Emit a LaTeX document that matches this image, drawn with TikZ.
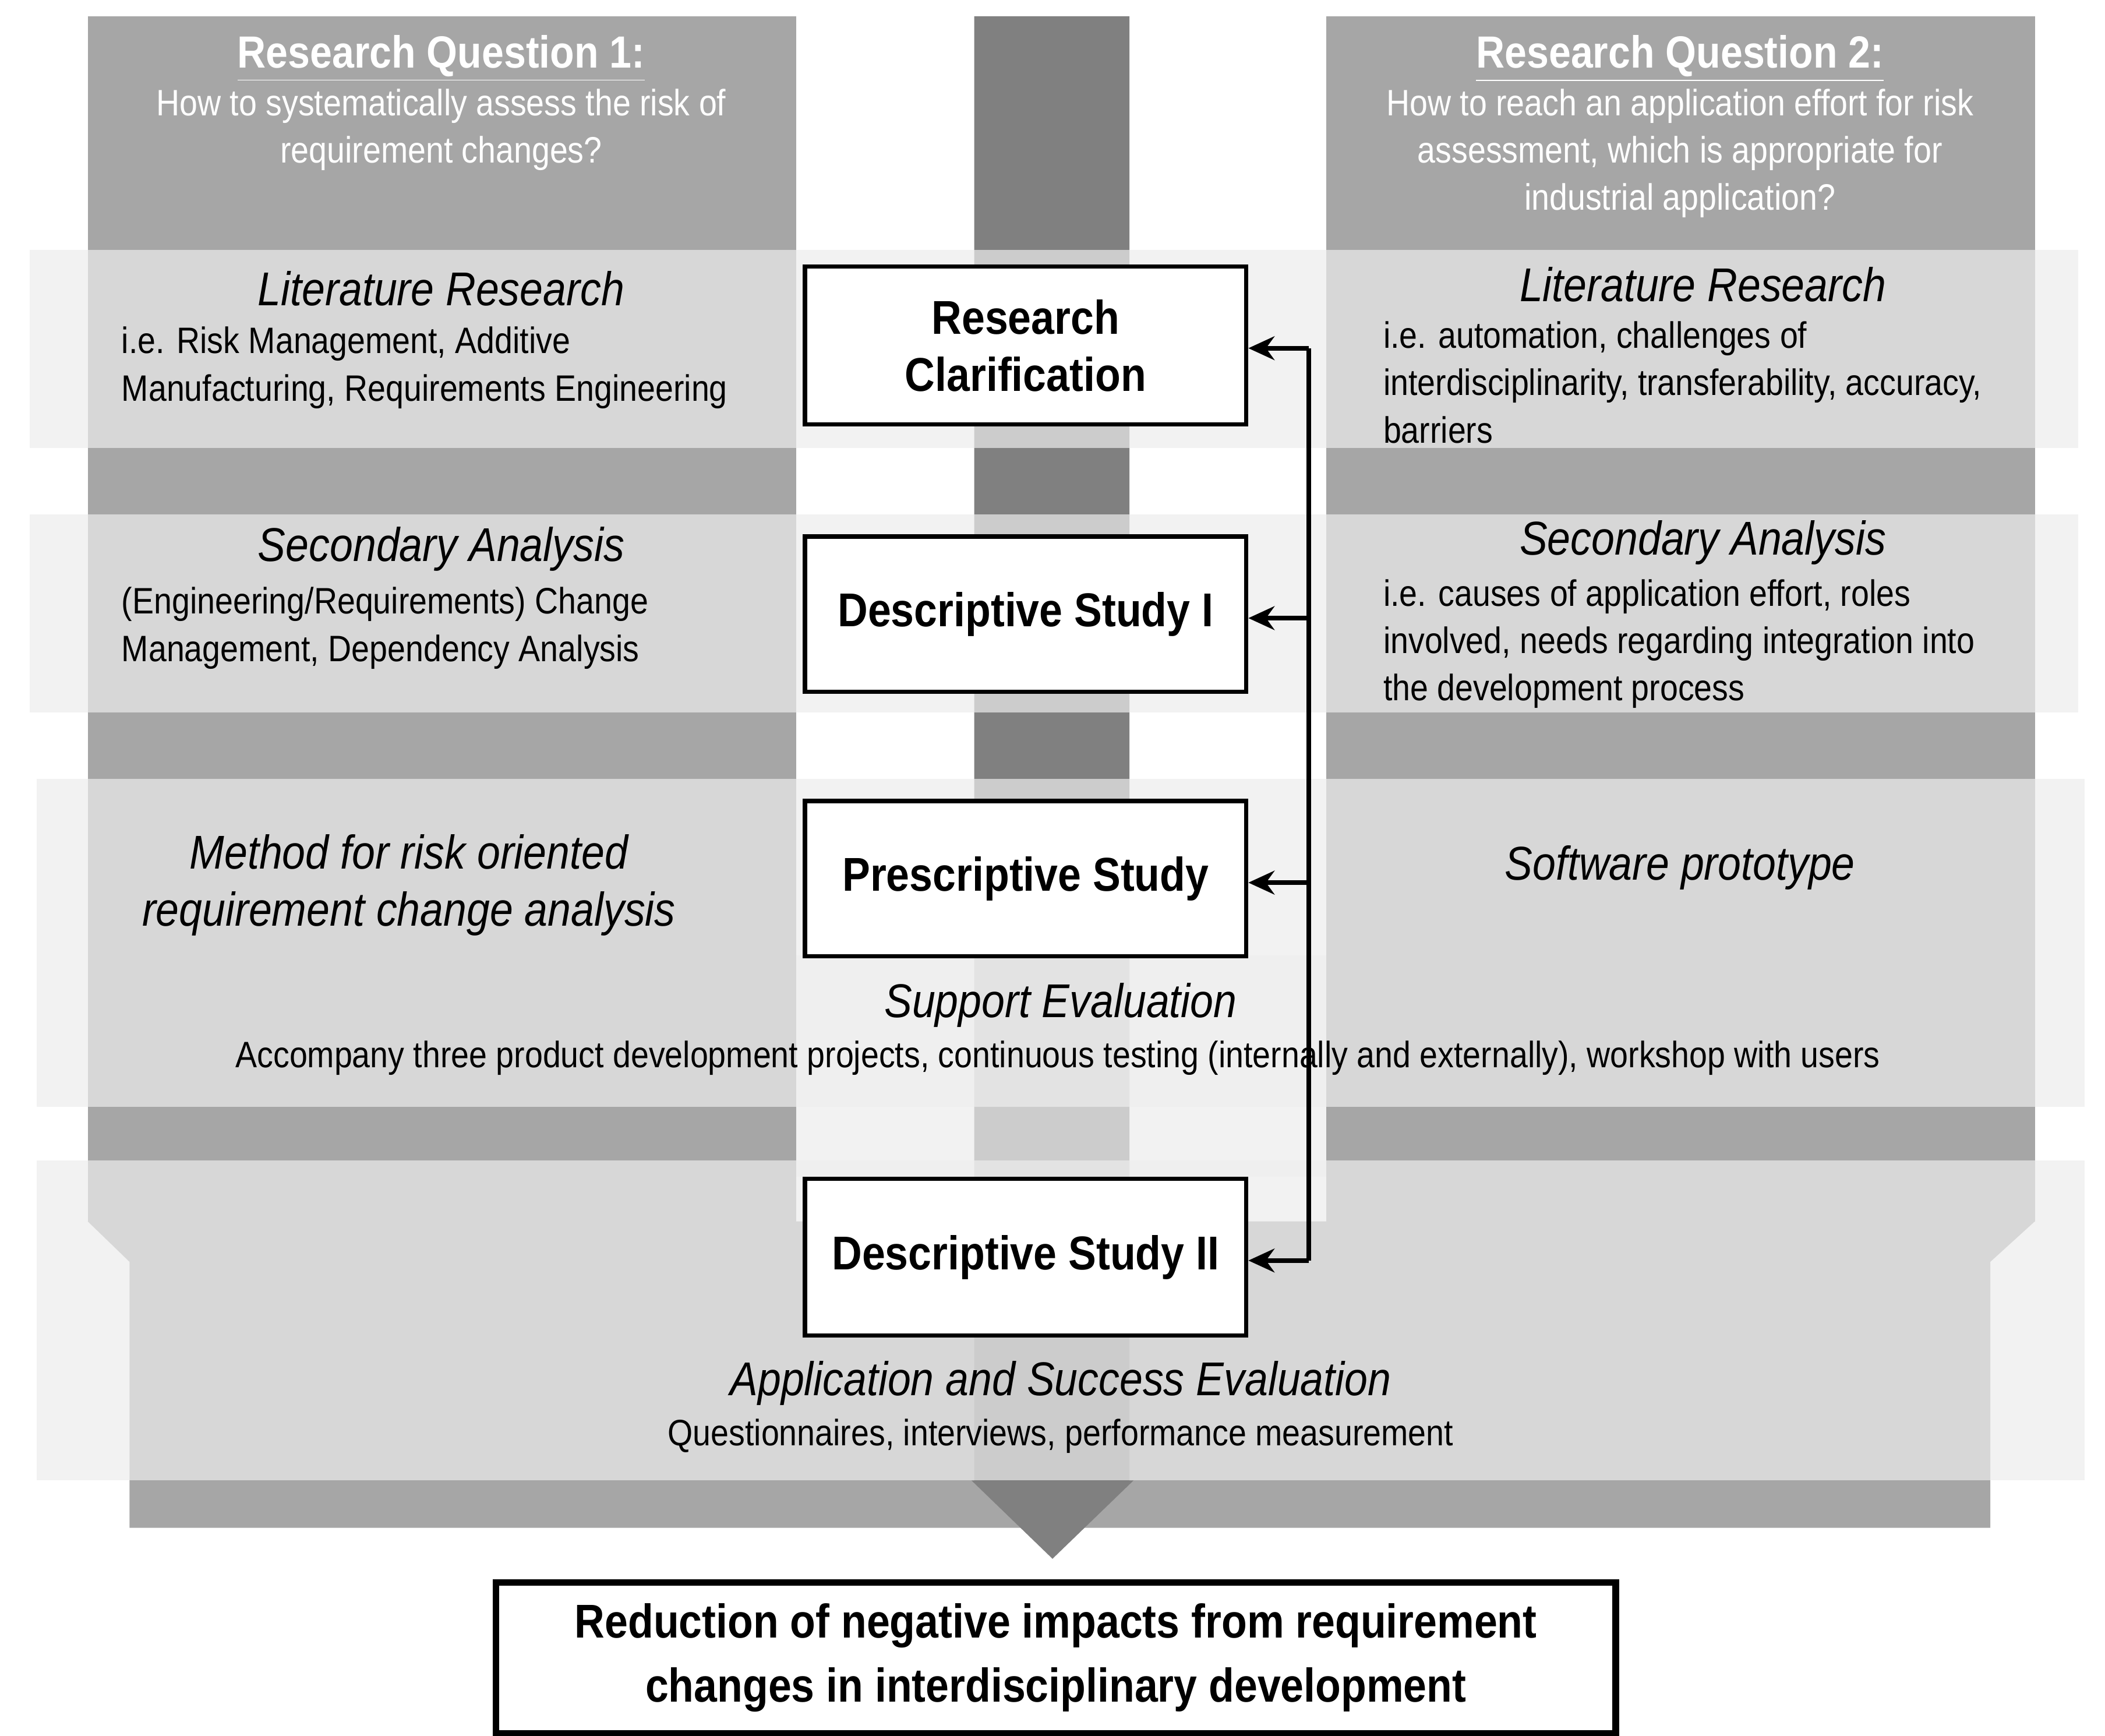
\documentclass[tikz,border=0pt]{standalone}
\usepackage{fontspec}
\setmainfont{Liberation Sans}[FakeStretch=0.88]
\usetikzlibrary{arrows.meta}
\begin{document}
\begin{tikzpicture}[x=0.02cm,y=-0.02cm,
  col/.style={fill=black!35,draw=none},
  mid/.style={fill=black!50,draw=none},
  band/.style={fill=black!7,opacity=0.7,draw=none},
  box/.style={draw=black,line width=1.8pt,fill=white,font=\fontsize{20}{24}\selectfont\bfseries,align=center,anchor=north west,inner sep=0pt},
  head/.style={font=\fontsize{20}{24}\selectfont\itshape},
  txt/.style={font=\fontsize{15.5}{20}\selectfont,align=left},
  qt/.style={font=\fontsize{15.5}{20}\selectfont,text=white,align=center},
  arr/.style={line width=2pt,-{Stealth[length=11pt,width=10pt]}}]
\useasboundingbox (0,0) rectangle (1560,1286);
% columns
\fill[col] (65,12) rectangle (590,905);
\fill[col] (983,12) rectangle (1508,905);
\fill[col] (65,905) -- (96,935) -- (96,1132) -- (1475,1132) -- (1475,935) -- (1508,905) -- cycle;
\fill[mid] (722,12) -- (837,12) -- (837,1097) -- (840,1097) -- (780,1155) -- (720,1097) -- (722,1097) -- cycle;
% bands
\fill[band] (22,185) rectangle (1540,332);
\fill[band] (22,381) rectangle (1540,528);
\fill[band] (27,577) rectangle (1545,820);
\fill[band] (590,708) rectangle (983,872);
\fill[band] (27,860) rectangle (1545,1097);
% questions
\node[qt,anchor=north] (q1) at (327,20) {{\fontsize{19}{24}\selectfont\bfseries\underline{Research Question 1:}}\\How to systematically assess the risk of\\requirement changes?};
\node[qt,anchor=north] (q2) at (1245,20) {{\fontsize{19}{24}\selectfont\bfseries\underline{Research Question 2:}}\\How to reach an application effort for risk\\assessment, which is appropriate for\\industrial application?};
% left texts
\node[head] (l1h) at (327,214) {Literature Research};
\node[txt,anchor=north west] (l1t) at (84,236) {i.e. Risk Management, Additive\\Manufacturing, Requirements Engineering};
\node[head] (l2h) at (327,407) {Secondary Analysis};
\node[txt,anchor=north west] (l2t) at (84,429) {(Engineering/Requirements) Change\\Management, Dependency Analysis};
\node[head,align=center] (l3h) at (303,656) {Method for risk oriented\\requirement change analysis};
% right texts
\node[head] (r1h) at (1262,211) {Literature Research};
\node[txt,anchor=north west] (r1t) at (1019,232) {i.e. automation, challenges of\\interdisciplinarity, transferability, accuracy,\\barriers};
\node[head] (r2h) at (1262,402) {Secondary Analysis};
\node[txt,anchor=north west] (r2t) at (1019,423) {i.e. causes of application effort, roles\\involved, needs regarding integration into\\the development process};
\node[head] (r3h) at (1245,643) {Software prototype};
% support
\node[head] (seh) at (786,745) {Support Evaluation};
\node[txt] (set) at (784,784) {Accompany three product development projects, continuous testing (internally and externally), workshop with users};
\node[head] (aeh) at (786,1025) {Application and Success Evaluation};
\node[txt] (aet) at (786,1064) {Questionnaires, interviews, performance measurement};
% boxes
\node[box,minimum width=327*0.02cm,minimum height=117*0.02cm] (rc) at (595,196) {Research\\Clarification};
\node[box,minimum width=327*0.02cm,minimum height=115*0.02cm] (ds1) at (595,396) {Descriptive Study I};
\node[box,minimum width=327*0.02cm,minimum height=115*0.02cm] (ps) at (595,592) {Prescriptive Study};
\node[box,minimum width=327*0.02cm,minimum height=116*0.02cm] (ds2) at (595,872) {Descriptive Study II};
\node[box,line width=2.8pt,minimum width=830*0.02cm,minimum height=112*0.02cm,font=\fontsize{20}{27}\selectfont\bfseries] (fin) at (365,1170) {Reduction of negative impacts from requirement\\changes in interdisciplinary development};
% connectors
\coordinate (top) at (970,258);
\coordinate (bot) at (970,934);
\draw[line width=2pt] (top) -- (bot);
\draw[arr] (top) -- (rc.east |- top);
\draw[arr] (970,458) -- (ds1.east |- 0,458);
\draw[arr] (970,654) -- (ps.east |- 0,654);
\draw[arr] (bot) -- (ds2.east |- bot);
\end{tikzpicture}
\end{document}
